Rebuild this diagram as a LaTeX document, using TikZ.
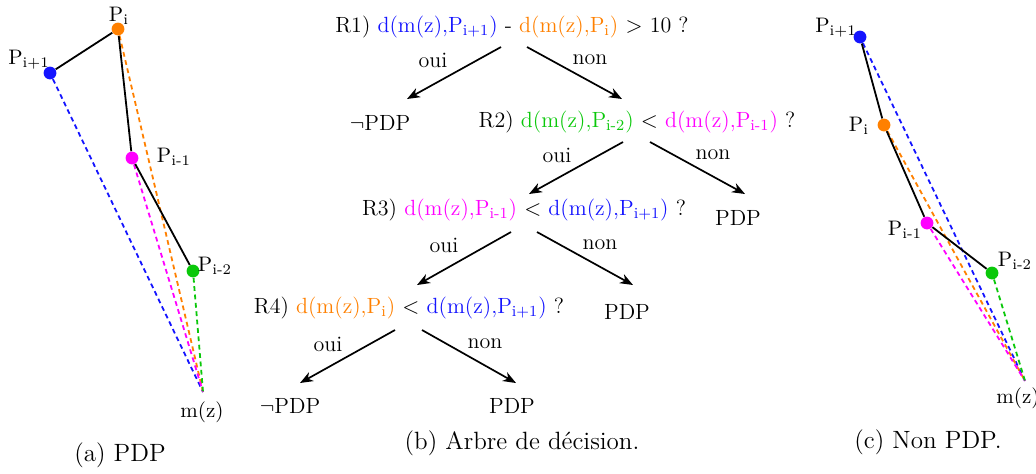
\documentclass[tikz,border=0pt]{standalone}
\usetikzlibrary{arrows.meta,backgrounds}
\definecolor{cblue}{RGB}{20,20,255}
\definecolor{corange}{RGB}{255,128,0}
\definecolor{cmag}{RGB}{255,0,255}
\definecolor{cgreen}{RGB}{10,200,10}
\newcommand{\pnt}[1]{P\textsubscript{#1}}
\newcommand{\dmz}[1]{d(m(z),\pnt{#1})}
\begin{document}
\begin{tikzpicture}[x=0.5pt,y=-0.5pt,
  dot/.style={circle,fill=#1,inner sep=0pt,minimum size=6.4pt},
  seg/.style={line width=0.9pt,draw=black},
  ray/.style={dash pattern=on 2.4pt off 1.8pt,line width=0.9pt,draw=#1},
  lab/.style={font=\fontsize{10.5}{12}\selectfont,inner sep=0pt},
  tree/.style={font=\fontsize{11}{13}\selectfont,inner sep=0pt},
  captxt/.style={font=\fontsize{12.5}{15}\selectfont,inner sep=0pt},
  arr/.style={-{Stealth[length=6.5pt,width=5pt,inset=2pt]},line width=0.85pt}]
\useasboundingbox (0,0) rectangle (1036,473);

% ---------- (a) PDP ----------
\node[dot=cblue]   (a1)  at (50,73)  {};
\node[dot=corange] (a0)  at (118,29) {};
\node[dot=cmag]    (am1) at (132,158) {};
\node[dot=cgreen]  (am2) at (193,271) {};
\coordinate (mza) at (203,392);
\begin{scope}[on background layer]
  \draw[ray=cblue]   (a1)  -- (mza);
  \draw[ray=corange] (a0)  -- (mza);
  \draw[ray=cmag]    (am1) -- (mza);
  \draw[ray=cgreen]  (am2) -- (mza);
  \draw[seg] (a1) -- (a0) -- (am1) -- (am2);
\end{scope}
\node[lab] (la1)  at (29,60)  {\pnt{i+1}};
\node[lab] (la0)  at (119,16) {\pnt{i}};
\node[lab] (lam1) at (174,157) {\pnt{i-1}};
\node[lab] (lam2) at (215,266) {\pnt{i-2}};
\node[lab] (lmza) at (202,412) {m(z)};
\node[captxt] (capa) at (120,455) {(a) PDP};

% ---------- (b) decision tree ----------
\node[tree] (r1) at (512,27) {R1) \textcolor{cblue}{\dmz{i+1}} - \textcolor{corange}{\dmz{i}} $>$ 10 ?};
\node[tree] (n1) at (380,123) {$\neg$PDP};
\node[tree] (r2) at (637,122) {R2) \textcolor{cgreen}{\dmz{i-2}} $<$ \textcolor{cmag}{\dmz{i-1}} ?};
\node[tree] (r3) at (524,210) {R3) \textcolor{cmag}{\dmz{i-1}} $<$ \textcolor{cblue}{\dmz{i+1}} ?};
\node[tree] (p2) at (738,218) {PDP};
\node[tree] (r4) at (409,308) {R4) \textcolor{corange}{\dmz{i}} $<$ \textcolor{cblue}{\dmz{i+1}} ?};
\node[tree] (p3) at (627,312) {PDP};
\node[tree] (n4) at (290,406) {$\neg$PDP};
\node[tree] (p4) at (512,406) {PDP};

\coordinate (r1o) at (501,47);  \coordinate (n1i) at (407,99);
\coordinate (r1n) at (527,47);  \coordinate (r2i) at (622,99);
\coordinate (r2o) at (623,142); \coordinate (r3i) at (529,194);
\coordinate (r2n) at (650,142); \coordinate (p2i) at (745,194);
\coordinate (r3o) at (511,232); \coordinate (r4i) at (417,285);
\coordinate (r3n) at (537,232); \coordinate (p3i) at (633,285);
\coordinate (r4o) at (395,330); \coordinate (n4i) at (300,383);
\coordinate (r4n) at (422,330); \coordinate (p4i) at (516,383);
\draw[arr] (r1o) -- (n1i);
\draw[arr] (r1n) -- (r2i);
\draw[arr] (r2o) -- (r3i);
\draw[arr] (r2n) -- (p2i);
\draw[arr] (r3o) -- (r4i);
\draw[arr] (r3n) -- (p3i);
\draw[arr] (r4o) -- (n4i);
\draw[arr] (r4n) -- (p4i);
\node[tree] (o1) at (433,60)  {oui};
\node[tree] (m1) at (590,60)  {non};
\node[tree] (o2) at (557,155) {oui};
\node[tree] (m2) at (713,155) {non};
\node[tree] (o3) at (444,245) {oui};
\node[tree] (m3) at (600,245) {non};
\node[tree] (o4) at (328,344) {oui};
\node[tree] (m4) at (485,344) {non};
\node[captxt] (capb) at (522,443) {(b) Arbre de d\'ecision.};

% ---------- (c) Non PDP ----------
\node[dot=cblue]   (b1)  at (860,37)  {};
\node[dot=corange] (b0)  at (884,125) {};
\node[dot=cmag]    (bm1) at (927,223) {};
\node[dot=cgreen]  (bm2) at (992,273) {};
\coordinate (mzb) at (1025,381);
\begin{scope}[on background layer]
  \draw[ray=cblue]   (b1)  -- (mzb);
  \draw[ray=corange] (b0)  -- (mzb);
  \draw[ray=cmag]    (bm1) -- (mzb);
  \draw[ray=cgreen]  (bm2) -- (mzb);
  \draw[seg] (b1) -- (b0) -- (bm1) -- (bm2);
\end{scope}
\node[lab] (lb1)  at (836,28)  {\pnt{i+1}};
\node[lab] (lb0)  at (859,126) {\pnt{i}};
\node[lab] (lbm1) at (905,230) {\pnt{i-1}};
\node[lab] (lbm2) at (1015,261) {\pnt{i-2}};
\node[lab] (lmzb) at (1018,398) {m(z)};
\node[captxt] (capc) at (928,442) {(c) Non PDP.};
\end{tikzpicture}
\end{document}
